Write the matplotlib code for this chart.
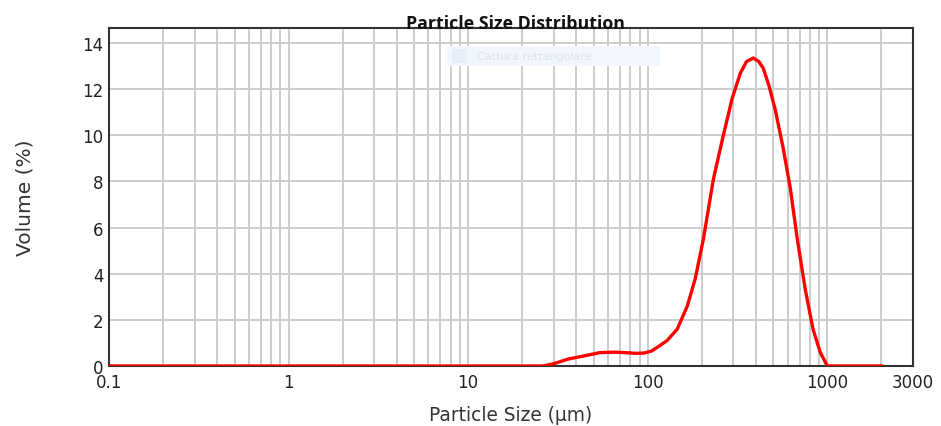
import numpy as np
import matplotlib
matplotlib.use("Agg")
import matplotlib.pyplot as plt
from matplotlib.patches import Rectangle
from matplotlib.ticker import FixedLocator, NullFormatter

# particle size distribution
size_um = [0.1, 26, 30, 36, 45, 54, 65, 75, 85, 95, 105, 115, 128, 146, 166,
           184, 204, 232, 260, 295, 328, 355, 387, 415, 440, 475, 513, 569,
           622, 680, 754, 832, 912, 1000, 2000]
volume_pct = [0, 0, 0.1, 0.3, 0.45, 0.58, 0.6, 0.58, 0.55, 0.56, 0.65, 0.85,
              1.1, 1.6, 2.6, 3.8, 5.5, 8.1, 9.8, 11.6, 12.7, 13.2, 13.35, 13.2,
              12.9, 12.1, 11.1, 9.4, 7.7, 5.5, 3.3, 1.6, 0.6, 0, 0]

x_ticks = [0.1, 1, 10, 100, 1000, 3000]
x_ticklabels = ["0.1", "1", "10", "100", "1000", "3000"]
y_ticks = [0, 2, 4, 6, 8, 10, 12, 14]

plt.rcParams['font.family'] = ['DejaVu Sans']

W, H = 941, 427
fig = plt.figure(figsize=(W / 100, H / 100), dpi=100)
ax = fig.add_axes([0.1158, 0.1405, 0.8545, 0.7915])

ax.set_xscale('log')
ax.set_xlim(0.1, 3000)
ax.set_ylim(0, 14.65)

# grid: every minor log step, every 2 % in y
grid_x = [m * 10.0**e for e in range(-1, 4) for m in range(1, 10) if m * 10.0**e < 3000]
for gx in grid_x[1:]:
    ax.axvline(gx, color='#cccccc', lw=1.4, zorder=0)
for gy in y_ticks[1:]:
    ax.axhline(gy, color='#cccccc', lw=1.4, zorder=0)

ax.plot(size_um, volume_pct, color='#ff0000', lw=2.4, zorder=3)

ax.xaxis.set_major_locator(FixedLocator(x_ticks))
ax.xaxis.set_minor_locator(FixedLocator([]))
ax.xaxis.set_minor_formatter(NullFormatter())
ax.set_xticks(x_ticks)
ax.set_xticklabels(x_ticklabels)
ax.set_yticks(y_ticks)
ax.set_yticklabels([str(v) for v in y_ticks])
ax.tick_params(axis='both', length=0, labelsize=12, colors='#222222')
ax.tick_params(axis='x', pad=5)
ax.tick_params(axis='y', pad=4)

for s in ax.spines.values():
    s.set_color('#333333')
    s.set_linewidth(1.5)

ax.set_xlabel('Particle Size (µm)', fontsize=13.4, color='#333333', labelpad=10)
ax.set_ylabel('Volume (%)', fontsize=14.5, color='#333333', labelpad=34)

ax.text(0.505, 1.0, 'Particle Size Distribution', transform=ax.transAxes,
        ha='center', va='baseline', fontsize=12.8, fontweight='bold',
        family=['Open Sans', 'DejaVu Sans'], color='#111111')

# faint screen-capture tooltip left in the original screenshot
fig.patches.append(Rectangle((447 / W, 1 - 67 / H), 213 / W, 20 / H,
                             transform=fig.transFigure, fc='#f2f7fd', ec='none',
                             zorder=5))
fig.patches.append(Rectangle((452 / W, 1 - 64 / H), 14 / W, 14 / H,
                             transform=fig.transFigure, fc='#e6eef8', ec='none',
                             zorder=6))
fig.text(477 / W, 1 - 57 / H, 'Cattura rettangolare', fontsize=8, color='#dde3ea',
         va='center', ha='left', zorder=7)

fig.savefig('out.png', dpi=100)
